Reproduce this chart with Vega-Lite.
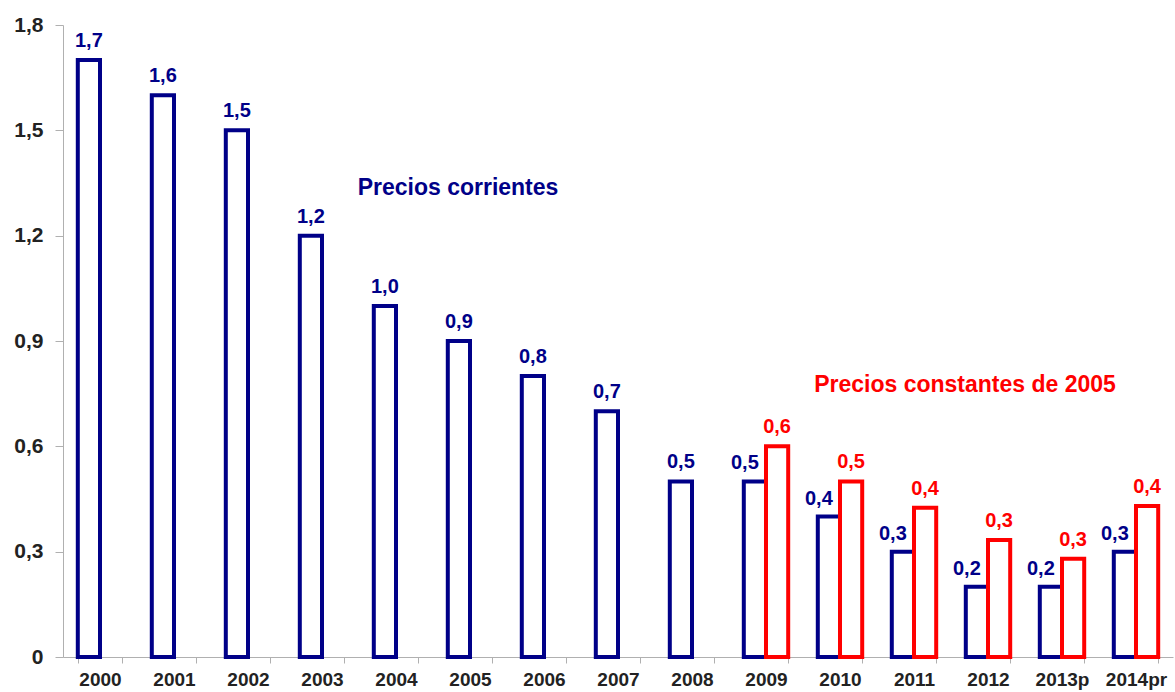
{
  "$schema": "https://vega.github.io/schema/vega-lite/v6.json",
  "autosize": "none",
  "width": 1110,
  "height": 632,
  "padding": {"left": 63, "top": 25, "right": 2, "bottom": 35},
  "background": "white",
  "config": {
    "view": {"stroke": null},
    "font": "Liberation Sans",
    "locale": {"number": {"decimal": ",", "thousands": ".", "grouping": [3], "currency": ["", " €"]}}
  },
  "datasets": {
    "bars": [
      {"year": "2000", "series": "corrientes", "value": 1.7, "paired": false},
      {"year": "2001", "series": "corrientes", "value": 1.6, "paired": false},
      {"year": "2002", "series": "corrientes", "value": 1.5, "paired": false},
      {"year": "2003", "series": "corrientes", "value": 1.2, "paired": false},
      {"year": "2004", "series": "corrientes", "value": 1.0, "paired": false},
      {"year": "2005", "series": "corrientes", "value": 0.9, "paired": false},
      {"year": "2006", "series": "corrientes", "value": 0.8, "paired": false},
      {"year": "2007", "series": "corrientes", "value": 0.7, "paired": false},
      {"year": "2008", "series": "corrientes", "value": 0.5, "paired": false},
      {"year": "2009", "series": "corrientes", "value": 0.5, "paired": true},
      {"year": "2010", "series": "corrientes", "value": 0.4, "paired": true},
      {"year": "2011", "series": "corrientes", "value": 0.3, "paired": true},
      {"year": "2012", "series": "corrientes", "value": 0.2, "paired": true},
      {"year": "2013p", "series": "corrientes", "value": 0.2, "paired": true},
      {"year": "2014pr", "series": "corrientes", "value": 0.3, "paired": true},
      {"year": "2009", "series": "constantes", "value": 0.6, "paired": false},
      {"year": "2010", "series": "constantes", "value": 0.5, "paired": false},
      {"year": "2011", "series": "constantes", "value": 0.425, "paired": false},
      {"year": "2012", "series": "constantes", "value": 0.333, "paired": false},
      {"year": "2013p", "series": "constantes", "value": 0.28, "paired": false},
      {"year": "2014pr", "series": "constantes", "value": 0.43, "paired": false}
    ],
    "notes": [
      {"label": "Precios corrientes", "year": "2005", "value": 1.336, "series": "corrientes"},
      {"label": "Precios constantes de 2005", "year": "2012", "value": 0.775, "series": "constantes"}
    ]
  },
  "layer": [
    {
      "data": {"name": "bars"},
      "mark": {"type": "bar", "fill": "white", "strokeWidth": 4, "strokeJoin": "miter"},
      "encoding": {
        "x": {
          "field": "year", "type": "nominal", "sort": null,
          "scale": {"paddingInner": 0.4, "paddingOuter": 0.2},
          "axis": {
            "title": null, "labelAngle": 0, "tickBand": "extent",
            "labelFont": "Liberation Sans", "labelFontWeight": "bold", "labelFontSize": 19,
            "labelColor": "#222222", "labelPadding": 7, "tickSize": 6,
            "domainColor": "#b0b0b0", "tickColor": "#b0b0b0", "grid": false
          }
        },
        "xOffset": {
          "field": "series", "type": "nominal",
          "scale": {"domain": ["corrientes", "constantes"], "paddingInner": 0, "paddingOuter": 0}
        },
        "y": {
          "field": "value", "type": "quantitative",
          "scale": {"domain": [0, 1.8], "nice": false},
          "axis": {
            "title": null, "values": [0, 0.3, 0.6, 0.9, 1.2, 1.5, 1.8], "format": ".1~f",
            "labelFont": "Liberation Sans", "labelFontWeight": "bold", "labelFontSize": 21,
            "labelColor": "#222222", "labelPadding": 12, "tickSize": 8,
            "domainColor": "#b0b0b0", "tickColor": "#b0b0b0", "grid": false
          }
        },
        "stroke": {
          "field": "series", "type": "nominal",
          "scale": {"domain": ["corrientes", "constantes"], "range": ["#000088", "#ff0000"]},
          "legend": null
        }
      }
    },
    {
      "data": {"name": "bars"},
      "transform": [{"filter": "!datum.paired"}],
      "mark": {"type": "text", "baseline": "alphabetic", "dy": -13, "fontSize": 20, "fontWeight": "bold", "font": "Liberation Sans"},
      "encoding": {
        "x": {"field": "year", "type": "nominal", "sort": null},
        "xOffset": {"field": "series", "type": "nominal"},
        "y": {"field": "value", "type": "quantitative"},
        "text": {"field": "value", "type": "quantitative", "format": ".1f"},
        "color": {
          "field": "series", "type": "nominal",
          "scale": {"domain": ["corrientes", "constantes"], "range": ["#000088", "#ff0000"]},
          "legend": null
        }
      }
    },
    {
      "data": {"name": "bars"},
      "transform": [{"filter": "datum.paired"}],
      "mark": {"type": "text", "baseline": "alphabetic", "dy": -12, "dx": -10, "fontSize": 20, "fontWeight": "bold", "font": "Liberation Sans"},
      "encoding": {
        "x": {"field": "year", "type": "nominal", "sort": null},
        "xOffset": {"field": "series", "type": "nominal"},
        "y": {"field": "value", "type": "quantitative"},
        "text": {"field": "value", "type": "quantitative", "format": ".1f"},
        "color": {"field": "series", "type": "nominal", "legend": null}
      }
    },
    {
      "data": {"name": "notes"},
      "transform": [{"filter": "datum.series == 'corrientes'"}],
      "mark": {"type": "text", "baseline": "middle", "align": "center", "dx": -12, "fontSize": 23, "fontWeight": "bold", "font": "Liberation Sans"},
      "encoding": {
        "x": {"field": "year", "type": "nominal", "sort": null},
        "y": {"field": "value", "type": "quantitative"},
        "text": {"field": "label", "type": "nominal"},
        "color": {"field": "series", "type": "nominal", "legend": null}
      }
    },
    {
      "data": {"name": "notes"},
      "transform": [{"filter": "datum.series == 'constantes'"}],
      "mark": {"type": "text", "baseline": "middle", "align": "center", "dx": -23, "fontSize": 23, "fontWeight": "bold", "font": "Liberation Sans"},
      "encoding": {
        "x": {"field": "year", "type": "nominal", "sort": null},
        "y": {"field": "value", "type": "quantitative"},
        "text": {"field": "label", "type": "nominal"},
        "color": {"field": "series", "type": "nominal", "legend": null}
      }
    }
  ]
}
